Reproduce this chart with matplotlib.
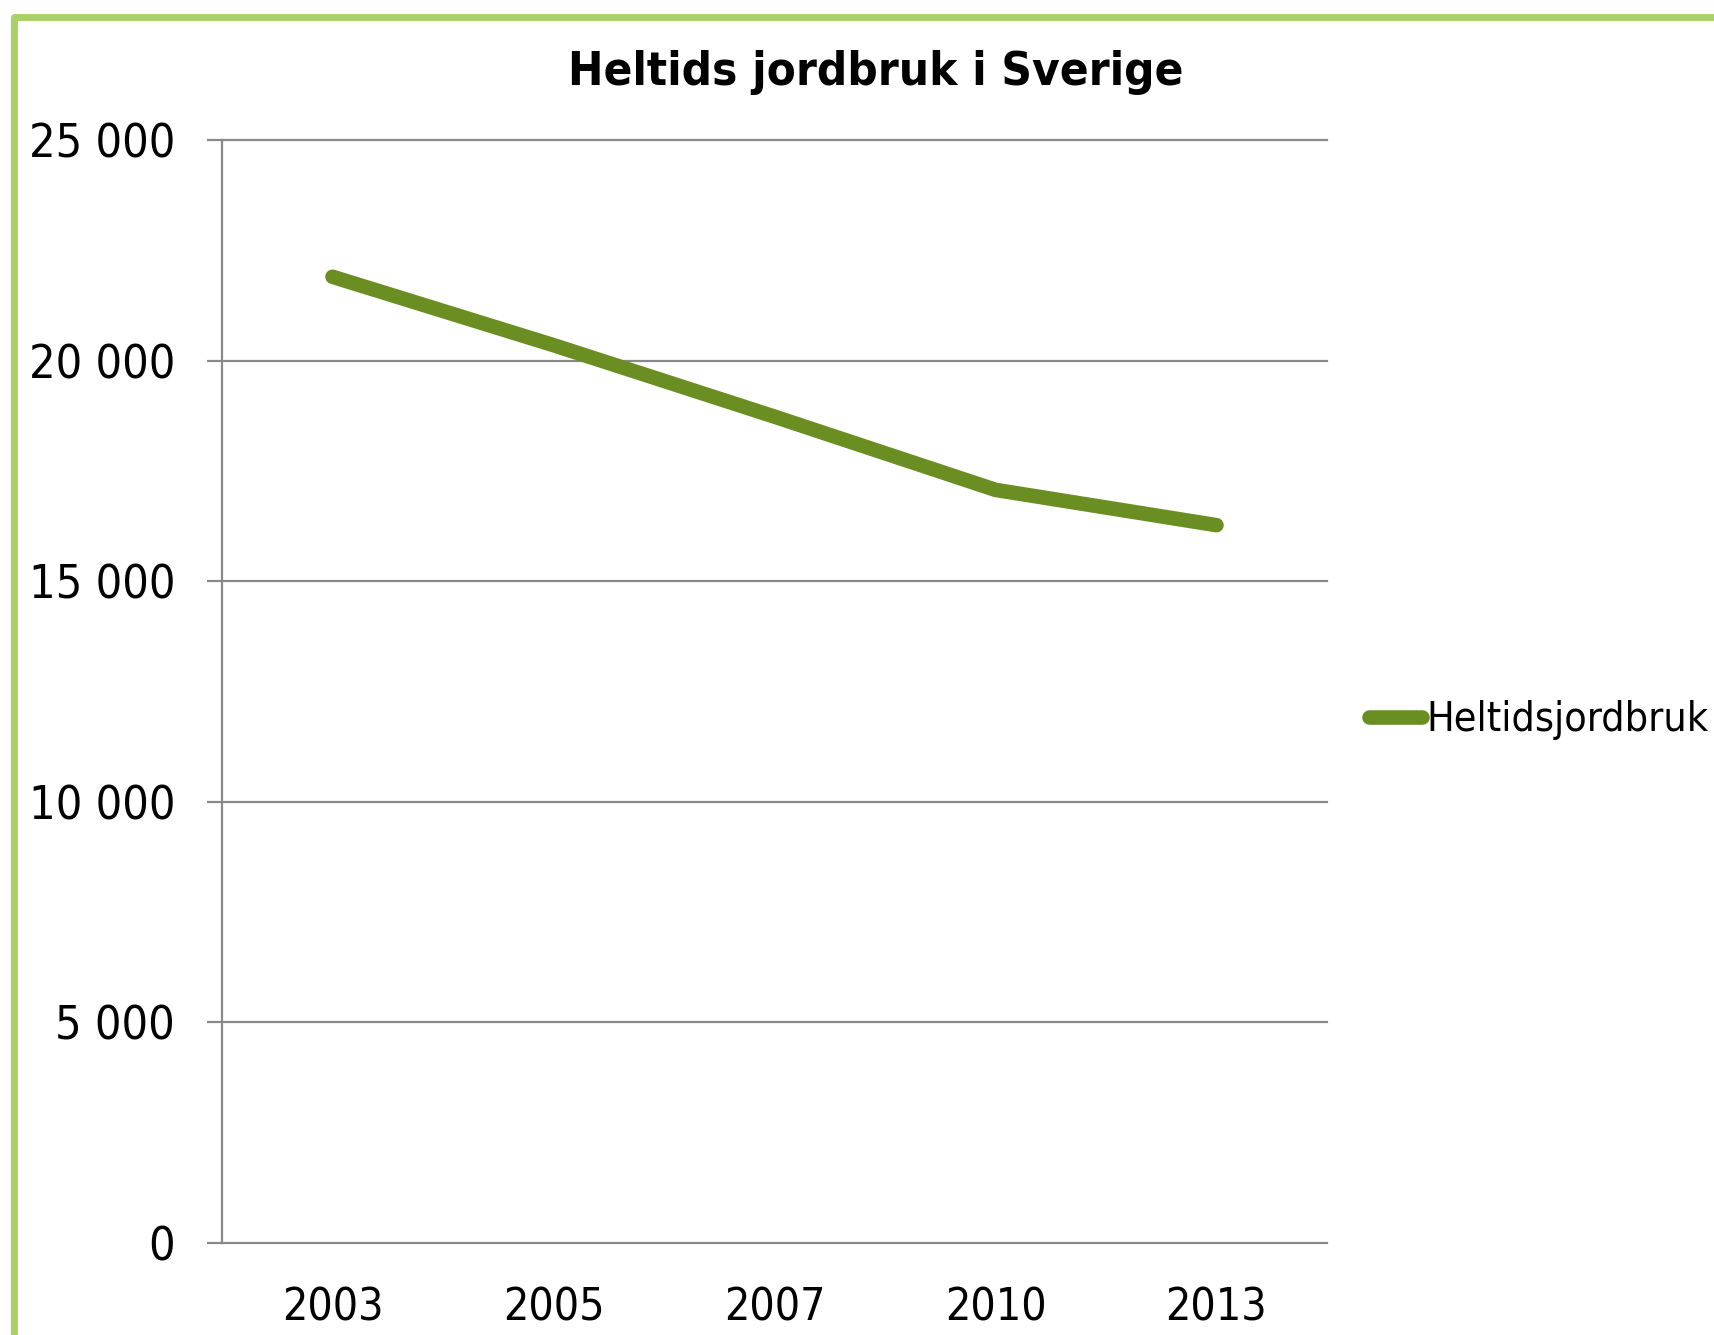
import matplotlib
matplotlib.use("Agg")
import matplotlib.pyplot as plt
from matplotlib.patches import Rectangle
from matplotlib.ticker import FuncFormatter

# data
years = ["2003", "2005", "2007", "2010", "2013"]
farms = [21900, 20350, 18730, 17070, 16270]
y_ticks = [0, 5000, 10000, 15000, 20000, 25000]
title = "Heltids jordbruk i Sverige"
series_name = "Heltidsjordbruk"

LINE = "#6B8E23"
GRID = "#898989"
BORDER = "#AAD06E"

plt.rcParams["font.family"] = ["DejaVu Sans"]
plt.rcParams["font.stretch"] = "condensed"

W, H = 1714, 1335
fig = plt.figure(figsize=(W / 100, H / 100), dpi=100)

# plot area, placed in pixels of the reference
left, right, top, bottom = 222, 1327, 140, 1243
ax = fig.add_axes([left / W, 1 - bottom / H, (right - left) / W, (bottom - top) / H])

x = list(range(len(years)))
ax.plot(x, farms, color=LINE, lw=10.5, solid_capstyle="round",
        solid_joinstyle="round", label=series_name, zorder=3)

ax.set_xlim(-0.5, len(years) - 0.5)
ax.set_ylim(0, 25000)
ax.set_yticks(y_ticks)
ax.yaxis.set_major_formatter(FuncFormatter(lambda v, _: f"{int(v):,}".replace(",", " ")))
ax.set_xticks(x)
ax.set_xticklabels(years)

ax.grid(axis="y", color=GRID, lw=1.6)
ax.set_axisbelow(True)
for gl in ax.get_ygridlines():
    gl.set_clip_on(False)
for s in ("top", "right", "bottom"):
    ax.spines[s].set_visible(False)
ax.spines["left"].set_color(GRID)
ax.spines["left"].set_linewidth(1.6)

ax.tick_params(axis="y", length=10.8, width=1.6, color=GRID, pad=23, labelsize=33.5)
ax.tick_params(axis="x", length=0, pad=31, labelsize=32)

fig.text(876 / W, 1 - 85 / H, title, ha="center", va="baseline",
         fontsize=34, fontweight="bold")

leg = ax.legend(loc="center left", bbox_to_anchor=(1369 / W, 1 - 720 / H),
                bbox_transform=fig.transFigure, frameon=False, borderpad=0,
                borderaxespad=0, handlelength=1.3, handletextpad=0.1, fontsize=29.5)

# light green frame around the chart (runs off the right/bottom edge)
fig.add_artist(Rectangle((14 / W, -0.1), 1.2, 1.1 - 17 / H, fill=False,
                         edgecolor=BORDER, lw=5, joinstyle="round",
                         transform=fig.transFigure, clip_on=False))

fig.savefig("out.png", dpi=100, facecolor="white")
